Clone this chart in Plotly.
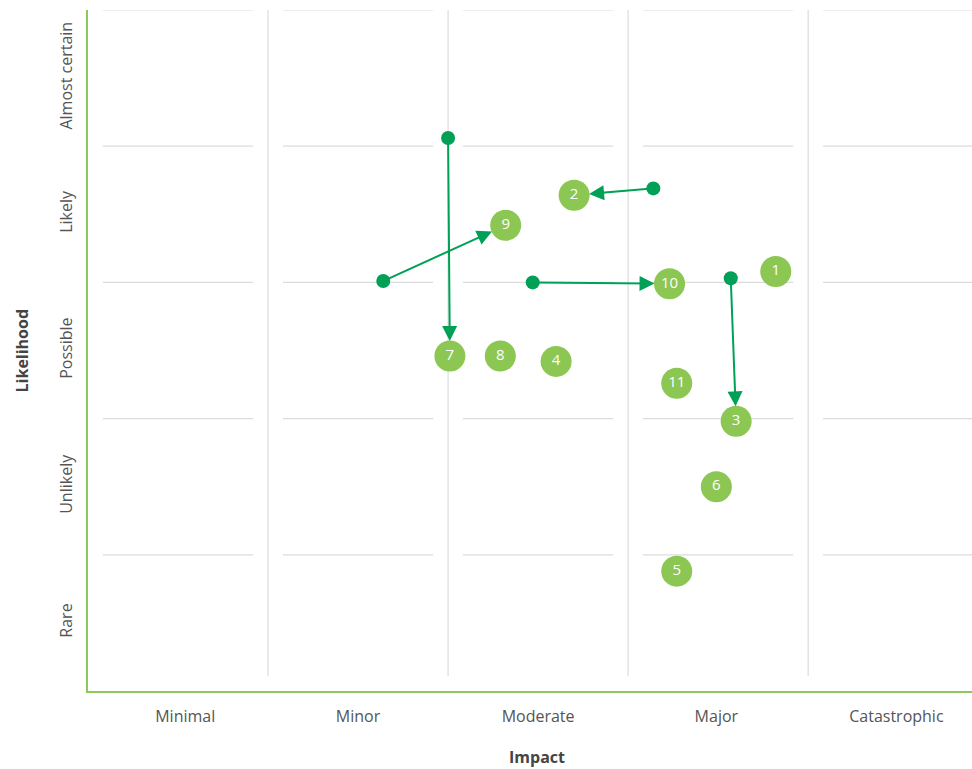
import plotly.graph_objects as go

# impact / likelihood categories (one unit per band)
impact_labels = ["Minimal", "Minor", "Moderate", "Major", "Catastrophic"]
impact_ticks = [0.54, 1.5, 2.5, 3.49, 4.49]
likelihood_labels = ["Rare", "Unlikely", "Possible", "Likely", "Almost certain"]
likelihood_ticks = [0.5, 1.5, 2.5, 3.5, 4.5]

# current position of each risk
risk_ids = ["1", "2", "3", "4", "5", "6", "7", "8", "9", "10", "11"]
risk_impact = [3.82, 2.70, 3.60, 2.60, 3.27, 3.49, 2.01, 2.29, 2.32, 3.23, 3.27]
risk_likelihood = [3.08, 3.64, 1.98, 2.42, 0.88, 1.50, 2.46, 2.46, 3.42, 2.99, 2.26]

# previous position of risks that moved
moved_ids = ["7", "9", "2", "10", "3"]
prev_impact = [2.00, 1.64, 3.14, 2.47, 3.57]
prev_likelihood = [4.06, 3.01, 3.69, 3.00, 3.03]

LIGHT = "#8cc653"
DARK = "#00a056"
GRID = "#dcdcdc"
AXIS = "#8dc85b"

fig = go.Figure()

# grid: full vertical dividers, broken horizontal ones
shapes = []
for i in range(1, len(impact_labels)):
    shapes.append(dict(type="line", x0=i, x1=i, y0=0.11, y1=5,
                       line=dict(color=GRID, width=1.2), layer="below"))
for j in range(1, len(likelihood_labels) + 1):
    for i in range(len(impact_labels)):
        shapes.append(dict(type="line", x0=i + 0.083, x1=i + 0.917, y0=j, y1=j,
                           line=dict(color=GRID, width=1.2), layer="below"))

fig.add_trace(go.Scatter(
    x=prev_impact, y=prev_likelihood, mode="markers",
    marker=dict(color=DARK, size=14), hoverinfo="skip", showlegend=False))

lookup = {r: (x, y) for r, x, y in zip(risk_ids, risk_impact, risk_likelihood)}
for rid, x0, y0 in zip(moved_ids, prev_impact, prev_likelihood):
    x1, y1 = lookup[rid]
    fig.add_annotation(x=x1, y=y1, ax=x0, ay=y0, xref="x", yref="y",
                       axref="x", ayref="y", text="", showarrow=True,
                       arrowhead=2, arrowsize=1.5, arrowwidth=2,
                       arrowcolor=DARK, standoff=15)

fig.add_trace(go.Scatter(
    x=risk_impact, y=risk_likelihood, mode="markers+text", text=risk_ids,
    textposition="middle center",
    textfont=dict(color="white", size=15, family="Open Sans"),
    marker=dict(color=LIGHT, size=31), showlegend=False))

# axis titles
fig.add_annotation(text="<b>Impact</b>", xref="paper", yref="paper",
                   x=0.508, y=-0.097, yanchor="middle", showarrow=False,
                   font=dict(size=16, color="#444444"))
fig.add_annotation(text="<b>Likelihood</b>", xref="paper", yref="paper",
                   x=-0.0747, y=0.50, xanchor="center", textangle=-90,
                   showarrow=False, font=dict(size=16, color="#444444"))

fig.update_layout(
    width=972, height=769,
    margin=dict(l=88, r=0, t=10, b=78),
    plot_bgcolor="white", paper_bgcolor="white",
    font=dict(family="Open Sans", color="#555555", size=16),
    shapes=shapes,
    xaxis=dict(range=[0, 4.91], tickvals=impact_ticks,
               ticktext=impact_labels, showgrid=False, zeroline=False,
               showline=True, linecolor=AXIS, linewidth=1.5,
               ticks="", ticklabelstandoff=10, automargin=False),
    yaxis=dict(range=[0, 5], tickvals=likelihood_ticks,
               ticktext=likelihood_labels, tickangle=-90, showgrid=False,
               zeroline=False, showline=True, linecolor=AXIS, linewidth=1.5,
               ticks="", ticklabelstandoff=8, automargin=False),
)

# drop the browser's default body margin so the figure fills the window
fig.write_html("out.html", config={"displayModeBar": False},
               post_script="document.body.style.margin='0';")
